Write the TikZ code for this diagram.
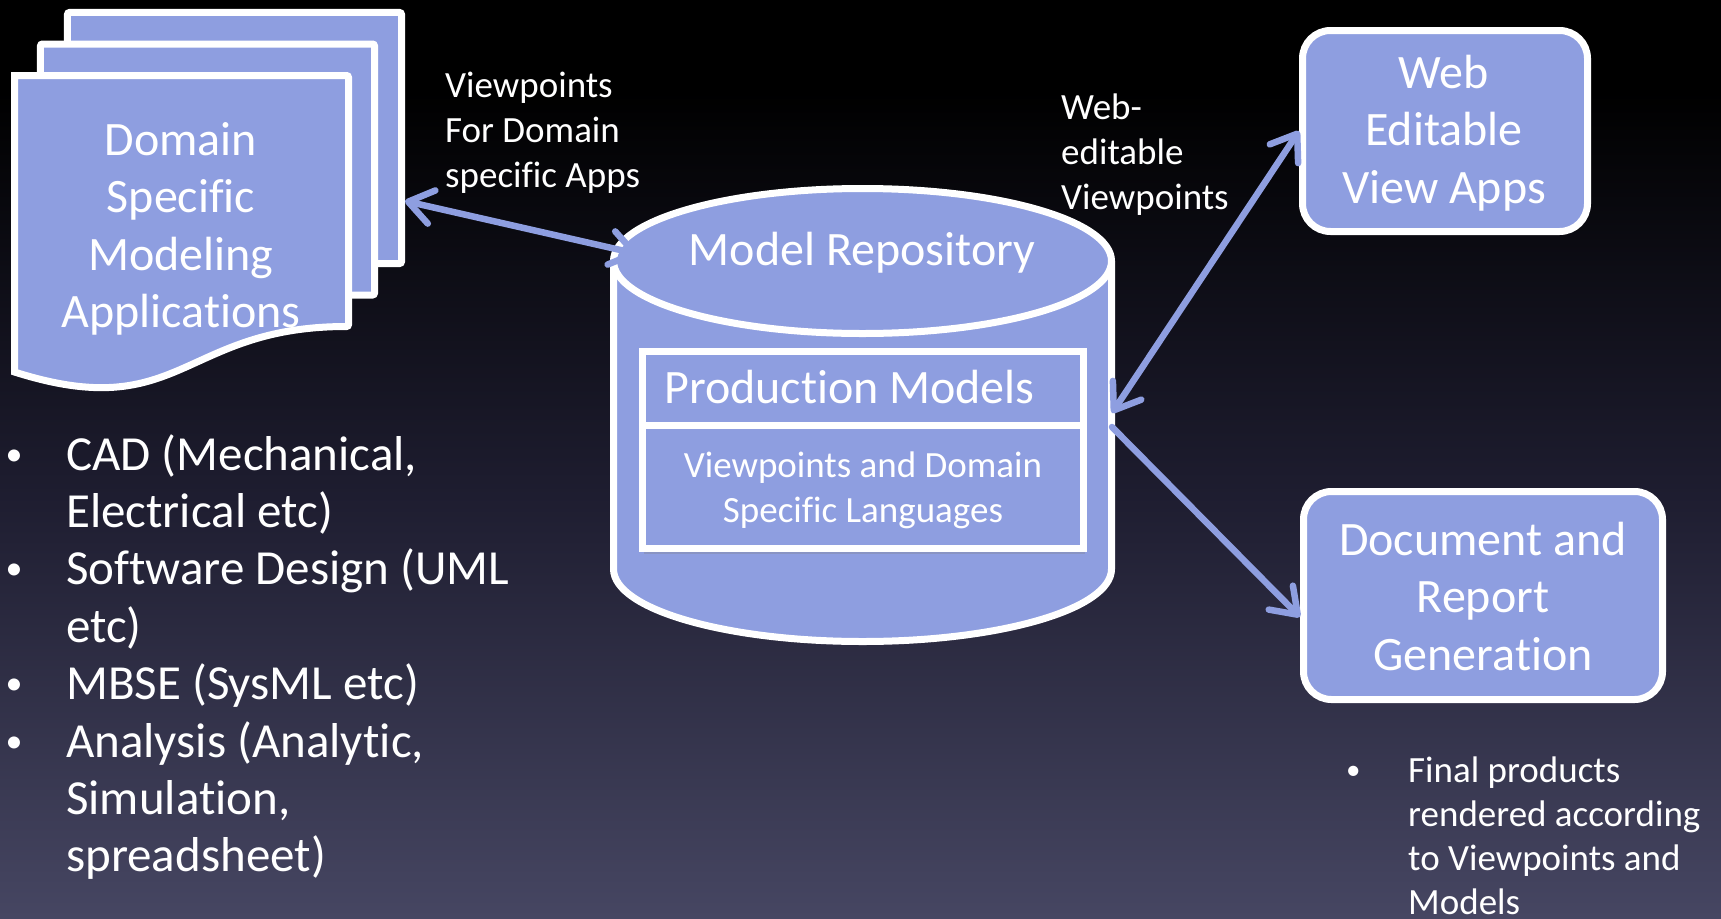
\documentclass[tikz,border=0pt]{standalone}
\usepackage{fontspec}
\setmainfont{Carlito}[Ligatures={NoCommon,NoContextual}]
\usetikzlibrary{arrows.meta,shadows}

\definecolor{boxblue}{RGB}{142,158,224}
\definecolor{bgtop}{RGB}{0,0,0}
\definecolor{bgmid}{RGB}{30,29,48}
\definecolor{bgbot}{RGB}{70,70,98}
% slide background: black at the top fading to slate blue at the bottom
\pgfdeclareverticalshading{slidebg}{100bp}{color(0bp)=(bgbot); color(25bp)=(bgbot); color(48bp)=(bgmid); color(70bp)=(bgtop); color(100bp)=(bgtop)}

% small bullet dot, shifted so that it sits centred on the x-height
\newcommand{\listdot}[3]{\hspace*{#2}\raisebox{#3}{\fontsize{#1}{#1}\selectfont •}}

\tikzset{
  shapebody/.style={fill=boxblue, draw=white, line width=7bp},
  page/.style={shapebody, rectangle, inner sep=0, rounded corners=2bp,
    minimum width=334bp, minimum height=251bp},
  appbox/.style={shapebody, rectangle, rounded corners=28bp, inner sep=0},
  bigtxt/.style={text=white, inner sep=0, font=\fontsize{48bp}{57.6bp}\selectfont},
  smalltxt/.style={text=white, inner sep=0, font=\fontsize{37bp}{45bp}\selectfont},
  vtip/.tip={Straight Barb[round, length=24bp, width=34bp]},
  conn/.style={draw=boxblue, line width=6.5bp, line cap=round},
}

\begin{document}
\begin{tikzpicture}[x=1bp, y=1bp]
\useasboundingbox (0,0) rectangle (1721,-918);
\fill[shading=slidebg] (0,0) rectangle (1721,-918);

% stack of modeling application documents
\node[page] (pageC) at (234.5,-138) {};
\node[page] (pageB) at (207.5,-169.5) {};
\path[shapebody, rounded corners=2bp] (14.5,-75.5) -- (348.5,-75.5) -- (348.5,-326.5)
  [sharp corners] .. controls (181.5,-326.5) and (181.5,-425) .. (14.5,-372) -- cycle;
\node[bigtxt, anchor=base] (dsma) at (181,-155)
  {\begin{tabular}[t]{@{}c@{}}Domain\\Specific\\Modeling\\Applications\end{tabular}};

% model repository cylinder
\path[shapebody] (613.5,-261) -- (613.5,-569)
  arc[start angle=180, end angle=360, x radius=249bp, y radius=72.5bp]
  -- (1111.5,-261)
  arc[start angle=0, end angle=180, x radius=249bp, y radius=72.5bp] -- cycle;
\draw[white, line width=7bp] (613.5,-261)
  arc[start angle=180, end angle=360, x radius=249bp, y radius=72.5bp];
\node[bigtxt, anchor=base] (repotitle) at (862,-265) {Model Repository};
\coordinate (repoL) at (638,-254);
\coordinate (repoR1) at (1112,-413);
\coordinate (repoR2) at (1112,-427);

% production models panel inside the repository
\node[shapebody, rectangle, inner sep=0, minimum width=441bp, minimum height=197bp,
  drop shadow={opacity=0.3, shadow xshift=1bp, shadow yshift=-5bp}] (prod) at (863,-450) {};
\draw[white, line width=7bp] (642.5,-425.5) -- (1083.5,-425.5);
\node[bigtxt, anchor=base west] (prodtitle) at (664,-403) {Production Models};
\node[smalltxt, anchor=base] (dsl) at (863,-477)
  {\begin{tabular}[t]{@{}c@{}}Viewpoints and Domain\\Specific Languages\end{tabular}};

% consumers of the repository
\node[appbox, minimum width=285bp, minimum height=201bp] (web) at (1445,-131) {};
\node[bigtxt, anchor=base] (webtxt) at (1444,-88)
  {\begin{tabular}[t]{@{}c@{}}Web\\Editable\\View Apps\end{tabular}};
\node[appbox, minimum width=359bp, minimum height=208bp] (doc) at (1483,-595.5) {};
\node[bigtxt, anchor=base] (doctxt) at (1483,-555)
  {\begin{tabular}[t]{@{}c@{}}Document and\\Report\\Generation\end{tabular}};

% connectors
\draw[conn, vtip-vtip] ([yshift=-63bp]pageC.east) -- (repoL);
\draw[conn, vtip-vtip] (repoR1) -- (web.west);
\draw[conn, -vtip] (repoR2) -- ([yshift=-21.5bp]doc.west);

% connector labels
\node[smalltxt, anchor=base west] (lblapps) at (445,-97)
  {\begin{tabular}[t]{@{}l@{}}Viewpoints\\For Domain\\specific Apps\end{tabular}};
\node[smalltxt, anchor=base west] (lblweb) at (1061,-119)
  {\begin{tabular}[t]{@{}l@{}}Web-\\editable\\Viewpoints\end{tabular}};

% bullet lists
\node[text=white, inner sep=0, font=\fontsize{49bp}{57.4bp}\selectfont, anchor=base west]
  (applist) at (1.5,-470)
  {\begin{tabular}[t]{@{}p{64.5bp}@{}l@{}}
  \listdot{34bp}{4bp}{5bp} & CAD (Mechanical,\\
    & Electrical etc)\\
  \listdot{34bp}{4bp}{5bp} & Software Design (UML\\
    & etc)\\
  \listdot{34bp}{4bp}{5bp} & MBSE (SysML etc)\\
  \listdot{34bp}{4bp}{5bp} & Analysis (Analytic,\\
    & Simulation,\\
    & spreadsheet)
  \end{tabular}};
\node[text=white, inner sep=0, font=\fontsize{37bp}{44.3bp}\selectfont, anchor=base west]
  (prodlist) at (1344,-782)
  {\begin{tabular}[t]{@{}p{64bp}@{}l@{}}
  \listdot{29bp}{2bp}{3bp} & Final products\\
    & rendered according\\
    & to Viewpoints and\\
    & Models
  \end{tabular}};
\end{tikzpicture}
\end{document}
